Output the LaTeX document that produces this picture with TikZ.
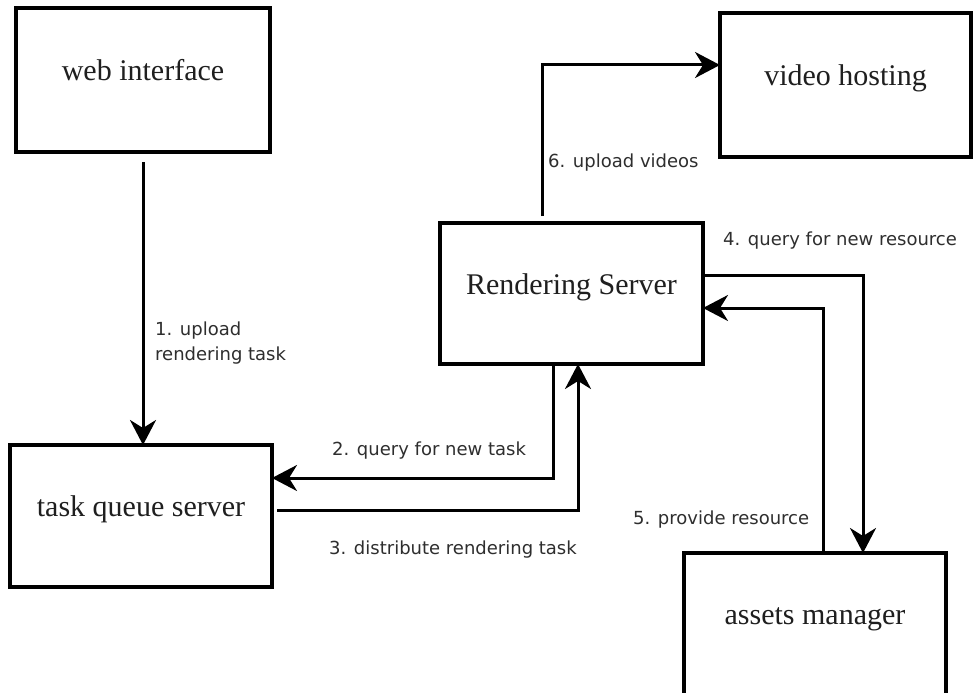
\documentclass[tikz,border=0pt]{standalone}
\usepackage{fontspec}
\setmainfont{Liberation Serif}
\newfontfamily\labfont{DejaVu Sans}
\usetikzlibrary{arrows.meta}
\begin{document}
\begin{tikzpicture}[x=1pt,y=-1pt,
  box/.style={draw=black,line width=3.5pt,rectangle,inner sep=0pt,outer sep=0pt,
    font=\fontsize{30}{36}\selectfont,text=black!88,text height=10pt,text depth=9pt},
  arr/.style={draw=black,line width=3pt,-{Stealth[length=25pt,width=26pt,inset=8pt]}},
  lab/.style={inner sep=0pt,font=\labfont\fontsize{18}{25}\selectfont,text=black!82}]
\clip (0,0) rectangle (974,693);
\fill[white] (0,0) rectangle (974,693);
% boxes
\node[box,minimum width=254pt,minimum height=144pt] (web) at (143,80) {web interface};
\node[box,minimum width=251pt,minimum height=144pt] (video) at (845.5,85) {video hosting};
\node[box,minimum width=263pt,minimum height=141pt] (rs) at (571.5,293.5) {Rendering Server};
\node[box,minimum width=262pt,minimum height=142pt] (tq) at (141,516) {task queue server};
\node[box,minimum width=262pt,minimum height=142pt] (am) at (815,624) {assets manager};
% connectors
\draw[arr] ([yshift=-10pt]web.south) -- (web.south |- tq.north);
\draw[arr] ([xshift=-18.5pt]rs.south) |- ([yshift=38pt]tq.east);
\draw[arr] ([xshift=5pt,yshift=6pt]tq.east) -| ([xshift=6.5pt]rs.south);
\draw[arr] ([yshift=18.5pt]rs.east) -| ([xshift=48pt]am.north);
\draw[arr] ([xshift=8pt]am.north) |- ([yshift=-14.5pt]rs.east);
\draw[arr] ([xshift=-29.5pt,yshift=7pt]rs.north) |- ([yshift=20pt]video.west);
% labels
\node[lab,anchor=north west,align=left] (l1) at (155,322) {1. upload\\rendering task};
\node[lab,anchor=mid west] (l2) at (332,453) {2. query for new task};
\node[lab,anchor=mid west] (l3) at (329,552) {3. distribute rendering task};
\node[lab,anchor=mid west] (l4) at (723,243) {4. query for new resource};
\node[lab,anchor=mid west] (l5) at (633,522) {5. provide resource};
\node[lab,anchor=mid west] (l6) at (548,165) {6. upload videos};
\end{tikzpicture}
\end{document}
